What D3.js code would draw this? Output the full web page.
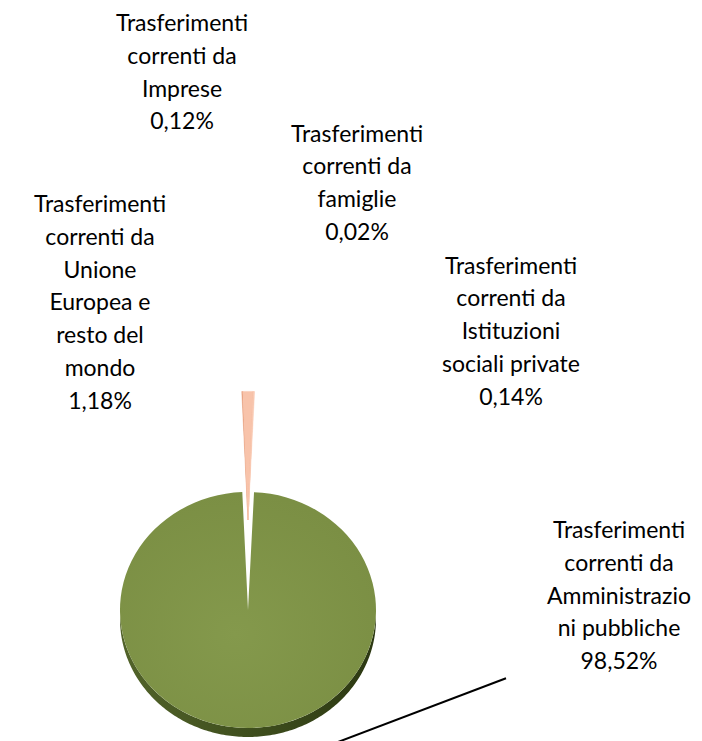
<!DOCTYPE html>
<html>
<head>
<meta charset="utf-8">
<script src="https://cdn.jsdelivr.net/npm/d3@7"></script>
<style>
  body { margin: 0; background: #fff; }
  svg text { font-family: Lato, "Liberation Sans", sans-serif; fill: #000; }
</style>
</head>
<body>
<div id="chart"></div>
<script>
// slice order, clockwise from the small exploded group
const categories = [
    "Trasferimenti correnti da Imprese",
    "Trasferimenti correnti da Unione Europea e resto del mondo",
    "Trasferimenti correnti da famiglie",
    "Trasferimenti correnti da Istituzioni sociali private",
    "Trasferimenti correnti da Amministrazioni pubbliche"
];
const values = [0.12, 1.18, 0.02, 0.14, 98.52];
const valueLabels = ["0,12%", "1,18%", "0,02%", "0,14%", "98,52%"];
const labelLines = [
    ["Trasferimenti", "correnti da", "Imprese"],
    ["Trasferimenti", "correnti da", "Unione", "Europea e", "resto del", "mondo"],
    ["Trasferimenti", "correnti da", "famiglie"],
    ["Trasferimenti", "correnti da", "Istituzioni", "sociali private"],
    ["Trasferimenti", "correnti da", "Amministrazio", "ni pubbliche"]
];
const colors = ["#e59b78", "#f8c3aa", "#f6bea3", "#f9c8b1", "#7f9347"];
const exploded = [true, true, true, true, false];

let width = 702, height = 741;
let cx = 248, cy = 610, rx = 128, ry = 118, depth = 9, k = ry / rx;
let explodeDist = 90 / k;
let lineH = 32.8;
// label anchors: centre x, baseline of first line
let labelPos = [[182, 31], [100, 212], [357, 141.5], [511, 273.5], [619, 538]];

let svg = d3.select("#chart")
    .append("svg")
    .attr("width", width)
    .attr("height", height);

let defs = svg.append("defs");
let rimGrad = defs.append("linearGradient").attr("id", "rim");
rimGrad.append("stop").attr("offset", "0%").attr("stop-color", "#52632a");
rimGrad.append("stop").attr("offset", "50%").attr("stop-color", "#3f4f1e");
rimGrad.append("stop").attr("offset", "100%").attr("stop-color", "#2c3812");
let faceGrad = defs.append("radialGradient").attr("id", "face")
    .attr("cx", "45%").attr("cy", "60%").attr("r", "60%");
faceGrad.append("stop").attr("offset", "0%").attr("stop-color", "#84994c");
faceGrad.append("stop").attr("offset", "100%").attr("stop-color", "#7b8f44");

let total = d3.sum(values);
let start = -(values[0] + values[1] / 2) / total * 2 * Math.PI;
let pie = d3.pie().sort(null).value(d => d)
    .startAngle(start).endAngle(start + 2 * Math.PI);
let arcs = pie(values);

// rim (front side) of the big slice
let pt = (a, dy) => [cx + rx * Math.sin(a), cy - ry * Math.cos(a) + dy];
arcs.forEach((a, i) => {
    if (exploded[i]) return;
    let a0 = Math.max(a.startAngle, Math.PI / 2), a1 = Math.min(a.endAngle, 3 * Math.PI / 2);
    if (a1 <= a0) return;
    let steps = d3.range(a0, a1, Math.PI / 180).concat([a1]);
    let pts = steps.map(s => pt(s, 0)).concat(steps.slice().reverse().map(s => pt(s, depth)));
    svg.append("path")
        .attr("d", d3.line()(pts) + "Z")
        .attr("fill", "url(#rim)");
});

let g = svg.append("g").attr("transform", `translate(${cx},${cy}) scale(1,${k})`);
let arc = d3.arc().innerRadius(0).outerRadius(rx);
let arcOut = d3.arc().innerRadius(0).outerRadius(rx * 1.09);

g.selectAll("path.slice")
    .data(arcs)
    .enter()
    .append("path")
    .attr("class", "slice")
    .attr("d", (d, i) => exploded[i] ? arcOut(d) : arc(d))
    .attr("transform", (d, i) => {
        if (!exploded[i]) return null;
        // all small slices move together, straight out along the group's centre
        let mid = 0;
        return `translate(${explodeDist * Math.sin(mid)},${-explodeDist * Math.cos(mid)})`;
    })
    .attr("fill", (d, i) => i === 4 ? "url(#face)" : colors[i])
    .attr("stroke", (d, i) => exploded[i] ? colors[i] : "none")
    .attr("stroke-width", 0.5);

// data labels
labelLines.forEach((lines, i) => {
    let t = svg.append("text")
        .attr("text-anchor", "middle")
        .attr("font-size", "23px");
    lines.concat([valueLabels[i]]).forEach((s, j) => {
        t.append("tspan")
            .attr("x", labelPos[i][0])
            .attr("y", labelPos[i][1] + j * lineH)
            .text(s);
    });
});

// leader line for the big slice
let leadA = arcs[4].startAngle + 0.41 * (arcs[4].endAngle - arcs[4].startAngle);
let p0 = [cx + 1.32 * rx * Math.sin(leadA), cy - 1.32 * ry * Math.cos(leadA)];
let p1 = [labelPos[4][0] - 113, labelPos[4][1] + 4 * lineH + 9];
svg.append("path")
    .attr("d", d3.line()([p0, p1]))
    .attr("stroke", "#000")
    .attr("stroke-width", 2)
    .attr("fill", "none");
</script>
</body>
</html>
